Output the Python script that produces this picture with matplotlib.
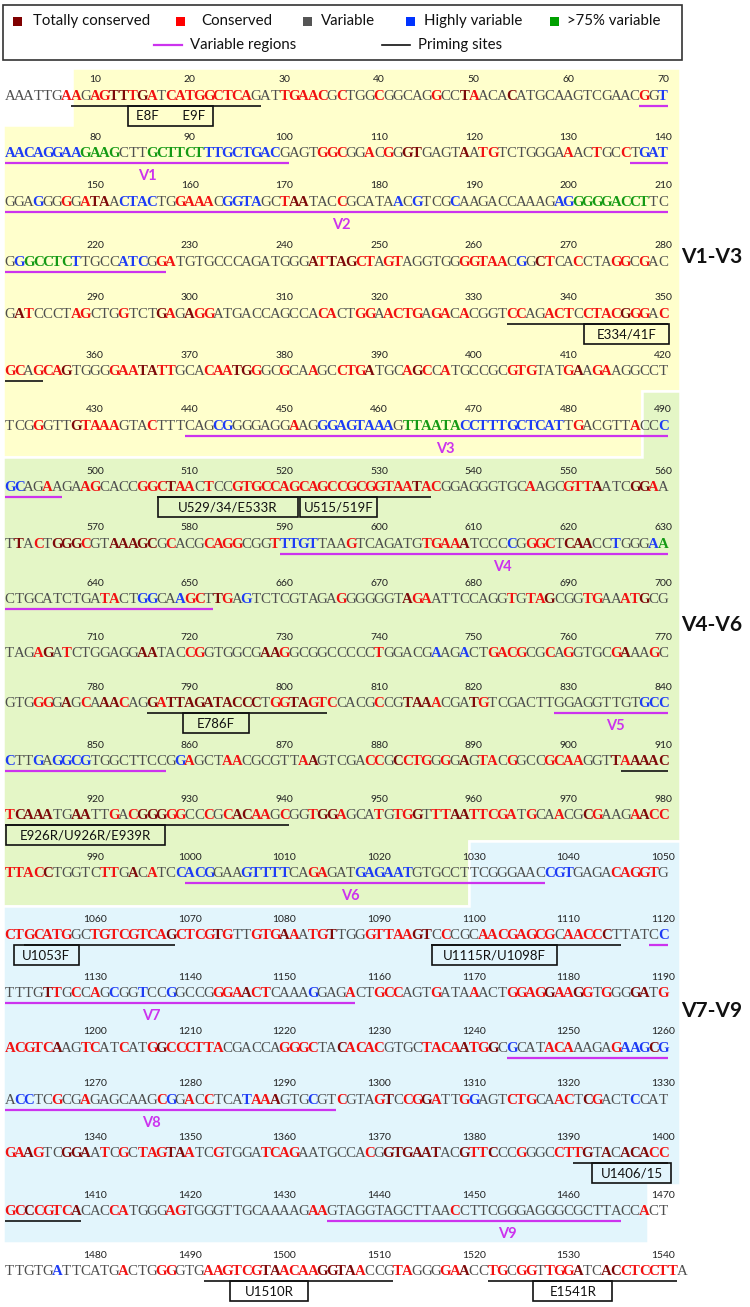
import numpy as np
import matplotlib.pyplot as plt
from matplotlib.patches import Polygon, Rectangle
from matplotlib import font_manager

plt.rcParams['font.family'] = ['Lato', 'DejaVu Sans']

# Secuencia 16S por filas (70 nt por fila, la ultima 72)
seq_rows = [
    "AAATTGAAGA GTTTGATCAT GGCTCAGATT GAACGCTGGC GGCAGGCCTA ACACATGCAA GTCGAACGGT",
    "AACAGGAAGA AGCTTGCTTC TTTGCTGACG AGTGGCGGAC GGGTGAGTAA TGTCTGGGAA ACTGCCTGAT",
    "GGAGGGGGAT AACTACTGGA AACGGTAGCT AATACCGCAT AACGTCGCAA GACCAAAGAG GGGGACCTTC",
    "GGGCCTCTTG CCATCGGATG TGCCCAGATG GGATTAGCTA GTAGGTGGGG TAACGGCTCA CCTAGGCGAC",
    "GATCCCTAGC TGGTCTGAGA GGATGACCAG CCACACTGGA ACTGAGACAC GGTCCAGACT CCTACGGGAC",
    "GCAGCAGTGG GGAATATTGC ACAATGGGCG CAAGCCTGAT GCAGCCATGC CGCGTGTATG AAGAAGGCCT",
    "TCGGGTTGTA AAGTACTTTC AGCGGGGAGG AAGGGAGTAA AGTTAATACC TTTGCTCATT GACGTTACCC",
    "GCAGAAGAAG CACCGGCTAA CTCCGTGCCA GCAGCCGCGG TAATACGGAG GGTGCAAGCG TTAATCGGAA",
    "TTACTGGGCG TAAAGCGCAC GCAGGCGGTT TGTTAAGTCA GATGTGAAAT CCCCGGGCTC AACCTGGGAA",
    "CTGCATCTGA TACTGGCAAG CTTGAGTCTC GTAGAGGGGG GTAGAATTCC AGGTGTAGCG GTGAAATGCG",
    "TAGAGATCTG GAGGAATACC GGTGGCGAAG GCGGCCCCCT GGACGAAGAC TGACGCGCAG GTGCGAAAGC",
    "GTGGGGAGCA AACAGGATTA GATACCCTGG TAGTCCACGC CGTAAACGAT GTCGACTTGG AGGTTGTGCC",
    "CTTGAGGCGT GGCTTCCGGA GCTAACGCGT TAAGTCGACC GCCTGGGGAG TACGGCCGCA AGGTTAAAAC",
    "TCAAATGAAT TGACGGGGGC CCGCACAAGC GGTGGAGCAT GTGGTTTAAT TCGATGCAAC GCGAAGAACC",
    "TTACCTGGTC TTGACATCCA CGGAAGTTTT CAGAGATGAG AATGTGCCTT CGGGAACCGT GAGACAGGTG",
    "CTGCATGGCT GTCGTCAGCT CGTGTTGTGA AATGTTGGGT TAAGTCCCGC AACGAGCGCA ACCCTTATCC",
    "TTTGTTGCCA GCGGTCCGGC CGGGAACTCA AAGGAGACTG CCAGTGATAA ACTGGAGGAA GGTGGGGATG",
    "ACGTCAAGTC ATCATGGCCC TTACGACCAG GGCTACACAC GTGCTACAAT GGCGCATACA AAGAGAAGCG",
    "ACCTCGCGAG AGCAAGCGGA CCTCATAAAG TGCGTCGTAG TCCGGATTGG AGTCTGCAAC TCGACTCCAT",
    "GAAGTCGGAA TCGCTAGTAA TCGTGGATCA GAATGCCACG GTGAATACGT TCCCGGGCCT TGTACACACC",
    "GCCCGTCACA CCATGGGAGT GGGTTGCAAA AGAAGTAGGT AGCTTAACCT TCGGGAGGGC GCTTACCACT",
    "TTGTGATTCA TGACTGGGGT GAAGTCGTAA CAAGGTAACC GTAGGGGAAC CTGCGGTTGG ATCACCTCCT TA",
]

# k = totalmente conservado, r = conservado, g = variable,
# b = muy variable, v = >75% variable
col_rows = [
    "ggggggrrgr rkkrkrgrrr rrrrrrgggr rrrrgrgggr gggggrggkr gggkgggggg gggggggrgb",
    "bbbbbbbbvv vvgggvvvvv vbbbbbbbbg gggrrrggrg rgkkggggkg rrgggggggr ggrggrgbbb",
    "gggbggrgrk kgbbbbggrr rrgbbbbggr kkgggrgggg gbgbgggbgg ggggggggbb vvvvvvvvgg",
    "gbvvvvvbgg ggbbbgrrgg gggggggggg ggkrkkkrrg rrggggggrr rrrgbgkrgg rgggrrgrgg",
    "gkrggggrrg ggrgggkrgk rrgggggggg gggrrggrrg rrrrgrrgrg gggrrggrrr grrrrkrrgr",
    "rrgrrrkggg grrrkkrrgg grrrkkrggr ggrggrrrkg ggrkrgrggg gggrrrgggr kgrrgggggg",
    "gggrgggkrr rrgggrgggg ggbbgggggg rggbbbbbbb bgvvvvvvbb bbbbbbbbbg rgggggrggb",
    "bbggrgggrr ggggrrrkrr grggrrrrrr rrrrrrrrrr rrrkrrgggg gggggrgggr rrkgggkkrg",
    "gkgrgkkkrg gkkkkkgrgg grrrrgggrb bbbgggrggg ggggrrrrkg gggbgrrrgk kkggbgggbv",
    "gggggggggg rrggbbggbr rgkrgbgggg gggggrgggg ggkrrggggg gggrgrrkgg grrggrrkgg",
    "gggrkgrggg ggggkkgggr rggggggkkr gggggggggr gggggbggbg grrrrggrgr ggggrkggrg",
    "gggrrgkgrg kkrggkrkkk kkkkkkkgrr kkrrrggggr ggkkkrgggk rggggggggg gggggggbbb",
    "bggbgbbbbg ggggggggbr gggrrggggg grkgggggrr gkrrrgrgkg rrgrgggrrr rgggkrkkkk",
    "rkkkkggkkg grgrkkkrrg grgrkkrrgr ggrkkrgggr grrkgrrkkr rrrrgrggrg gkrgggrkrr",
    "rrrrkggggg rrgkgrggbb bbgggbbbbb ggrrgggbbb bbbggggggg gggggggbbb ggggrrrrrg",
    "rrrrrrrggr rrrrrrrkrr rrkrggrrrk rgrrkgggrr rrrkkgrggg rrrrrrrrgr rrrkgggggb",
    "ggggkrgrgr gbggbggbgg ggrrrkrrgg ggbgggrggr rrgggrgggr gggrrrrkrr krgrggkkgr",
    "rrrrrkggrr ggrggrkrrr rrrggggggr rrrggkrrrr ggggrrrrkr rkgbgggrrr ggggrbbbkb",
    "gbbggrggrg ggggggrbgr grgggbrrkg ggbggrgggr kgrrkrggrb gggrrrggrr gkrgggbggg",
    "rrkrggkkkg rgrgrrrkkr ggrggggrrr rgggggggrg kkkkkkggkr rkggrgggrr rkgkgkkkrr",
    "rrkrrrrkgg grrggggrrg gggggggggg ggrrgggggg gggggggrgg gggggggggg gggggggrgg",
    "gggggbgggg ggrgggrrgg grrrrrrkkr rrrkkkkrgg grrgggrrkg grrgrrgrrr kggkkrrrrr rg",
]

# Regiones variables (nt inicial, nt final) y posicion de su etiqueta
var_regions = [(68, 100), (137, 227), (440, 496), (590, 652), (829, 857),
               (1000, 1037), (1119, 1157), (1244, 1295), (1435, 1465)]
var_names = ['V1', 'V2', 'V3', 'V4', 'V5', 'V6', 'V7', 'V8', 'V9']
var_label_nt = [85.5, 176, 467, 613, 835, 1017, 1136, 1276, 1453.5]

# Sitios de cebado
priming = [(8, 27), (334, 354), (507, 535), (786, 804), (906, 940),
           (1053, 1068), (1096, 1115), (1391, 1408), (1492, 1511), (1522, 1541)]

# Cajas de cebadores (borde izq., borde dcho. en nt)
primer_names = ['E8F       E9F', 'E334/41F', 'U529/34/E533R', 'U515/519F', 'E786F',
                'E926R/U926R/E939R', 'U1053F', 'U1115R/U1098F', 'U1406/15',
                'U1510R', 'E1541R']
primer_left = [14.0, 342.1, 507.2, 522.2, 789.8, 911.1, 1051.95, 1096.1, 1393.0, 1494.8, 1526.8]
primer_right = [23.0, 351.1, 521.9, 530.3, 796.8, 927.9, 1058.8, 1109.3, 1401.3, 1503.0, 1535.1]

group_names = ['V1-V3', 'V4-V6', 'V7-V9']

legend_names = ['Totally conserved', 'Conserved', 'Variable', 'Highly variable', '>75% variable']

# ---- estilo ----
pal = {'k': '#7d0a0a', 'r': '#f21212', 'g': '#4e4e4e', 'b': '#1e3cf5', 'v': '#159a15'}
legend_cols = ['#800000', '#ff0000', '#555555', '#0033ff', '#00a000']
magenta = '#cc33ee'

names = {f.name for f in font_manager.fontManager.ttflist}
narrow = 'Liberation Sans Narrow' if 'Liberation Sans Narrow' in names else 'Lato'
seq_font = 'Liberation Serif'

fig = plt.figure(figsize=(7.5, 13.07), dpi=100)
ax = fig.add_axes([0, 0, 1, 1])
ax.set_xlim(0, 750)
ax.set_ylim(1307, 0)
ax.axis('off')

x0, dx = 5.0, 9.47
row_y = [95, 152, 201, 261, 313, 370, 425, 486, 543, 598, 652, 702,
         760, 814, 872, 934, 992, 1047, 1099, 1152, 1210, 1270]
nrows = len(seq_rows)
row_start = [1 + 70*i for i in range(nrows)]


def nt_row(p):
    return min(int(p - 1)//70, nrows - 1)


def nt_x(e, r):
    # x del borde izquierdo del nt e en la fila r
    return x0 + (e - row_start[r])*dx


# Fondos de color
yellow = [(72, 68), (680, 68), (680, 391), (642, 391), (642, 457), (3, 457), (3, 125), (72, 125)]
green = [(642, 391), (680, 391), (680, 841), (469, 841), (469, 906), (3, 906), (3, 457), (642, 457)]
blue = [(469, 841), (680, 841), (680, 1185), (648, 1185), (648, 1243), (3, 1243), (3, 906), (469, 906)]
for poly, fc in zip([yellow, green, blue], ['#ffffcc', '#e4f6c6', '#e2f5fc']):
    ax.add_patch(Polygon(poly, closed=True, facecolor=fc, edgecolor='white', lw=1.8, zorder=0))

# Leyenda
ax.add_patch(Rectangle((3, 5), 679, 55, facecolor='white', edgecolor='#333333', lw=1.2, zorder=1))
sq_x = [17, 180, 307, 410, 554]
tx_x = [33, 201, 321, 424, 567]
for sx, tx, name, c in zip(sq_x, tx_x, legend_names, legend_cols):
    ax.add_patch(Rectangle((sx - 4.5, 16.5), 9, 9, facecolor=c, edgecolor='none', zorder=2))
    ax.text(tx, 21, name, fontsize=10.8, color='#111111', va='center', ha='left', zorder=2)
ax.plot([154, 182], [45, 45], color=magenta, lw=1.6, zorder=2)
ax.text(190, 45, 'Variable regions', fontsize=10.8, color='#111111', va='center', ha='left')
ax.plot([382, 410], [45, 45], color='#111111', lw=1.2, zorder=2)
ax.text(418, 45, 'Priming sites', fontsize=10.8, color='#111111', va='center', ha='left')

# Secuencia y numeracion
for r in range(nrows):
    s = seq_rows[r].replace(' ', '')
    c = col_rows[r].replace(' ', '').ljust(len(s), 'g')
    y = row_y[r]
    for i, (ch, cc) in enumerate(zip(s, c)):
        ax.text(x0 + (i + 0.5)*dx, y + 4.8, ch, color=pal[cc], fontsize=10.7,
                family=seq_font, fontweight='normal' if cc == 'g' else 'bold',
                ha='center', va='baseline', zorder=3)
    for k in range(1, 8):
        ax.text(x0 + (10*k - 0.5)*dx, y - 15, str(row_start[r] + 10*k - 1),
                fontsize=7.5, color='#222222', ha='center', va='center', zorder=3)


def draw_span(a, b, color, lw):
    p = a
    while p <= b:
        r = nt_row(p)
        end = min(b, row_start[r] + len(seq_rows[r].replace(' ', '')) - 1)
        yy = row_y[r] + 11
        ax.plot([nt_x(p, r), nt_x(end + 1, r)], [yy, yy], color=color, lw=lw,
                solid_capstyle='butt', zorder=2)
        p = end + 1


for a, b in var_regions:
    draw_span(a, b, magenta, 1.6)
for a, b in priming:
    draw_span(a, b, '#111111', 1.2)

for name, p in zip(var_names, var_label_nt):
    r = nt_row(p)
    ax.text(nt_x(p + 0.5, r), row_y[r] + 24, name, color=magenta, fontsize=10.5,
            fontweight='bold', ha='center', va='center', zorder=3)

for name, e0, e1 in zip(primer_names, primer_left, primer_right):
    r = nt_row(e0)
    xl, xr = nt_x(e0, r), nt_x(e1, r)
    top = row_y[r] + 11
    ax.add_patch(Rectangle((xl, top), xr - xl, 20, facecolor='none', edgecolor='#111111',
                           lw=1.2, zorder=2))
    ax.text((xl + xr)/2, top + 10.5, name, family=narrow, fontsize=9.5, color='#111111',
            ha='center', va='center', zorder=3)

for name, yy in zip(group_names, [257, 625, 1011]):
    ax.text(712, yy, name, family=narrow, fontsize=15, fontweight='bold', color='#111111',
            ha='center', va='center')

fig.savefig('out.png', dpi=100)
